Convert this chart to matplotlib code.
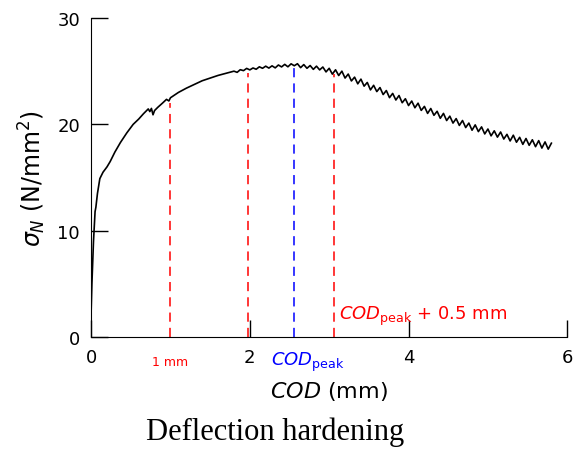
import numpy as np
import matplotlib.pyplot as plt

# rising part of the curve (COD in mm, sigma_N in N/mm2)
cod_rise = [0.00, 0.01, 0.03, 0.05, 0.06, 0.08, 0.11, 0.15, 0.20, 0.24, 0.30, 0.37,
            0.45, 0.53, 0.60, 0.66, 0.72, 0.74, 0.76, 0.78, 0.80, 0.84, 0.90, 0.95,
            0.98, 1.00, 1.05, 1.10, 1.20, 1.30, 1.40, 1.50, 1.60, 1.70, 1.75]
sig_rise = [2.3, 5.0, 9.0, 11.8, 12.2, 13.5, 14.9, 15.5, 16.0, 16.5, 17.4, 18.3,
            19.2, 20.0, 20.5, 21.0, 21.45, 21.2, 21.5, 20.9, 21.3, 21.6, 22.0, 22.35,
            22.2, 22.5, 22.75, 23.0, 23.4, 23.75, 24.1, 24.35, 24.6, 24.8, 24.9]

# noisy plateau and softening part
cod_tail = [1.80, 1.84, 1.88, 1.92, 1.96, 2.00, 2.04, 2.08, 2.12, 2.16, 2.20, 2.24,
            2.28, 2.32, 2.36, 2.40, 2.44, 2.48, 2.52, 2.56, 2.60, 2.64, 2.68, 2.72,
            2.76, 2.80, 2.84, 2.88, 2.92, 2.96, 3.00, 3.04, 3.08, 3.12, 3.16, 3.20,
            3.24, 3.28, 3.32, 3.36, 3.40, 3.44, 3.48, 3.52, 3.56, 3.60, 3.64, 3.68,
            3.72, 3.76, 3.80, 3.84, 3.88, 3.92, 3.96, 4.00, 4.04, 4.08, 4.12, 4.16,
            4.20, 4.24, 4.28, 4.32, 4.36, 4.40, 4.44, 4.48, 4.52, 4.56, 4.60, 4.64,
            4.68, 4.72, 4.76, 4.80, 4.84, 4.88, 4.92, 4.96, 5.00, 5.04, 5.08, 5.12,
            5.16, 5.20, 5.24, 5.28, 5.32, 5.36, 5.40, 5.44, 5.48, 5.52, 5.56, 5.60,
            5.64, 5.68, 5.72, 5.76, 5.80]
sig_tail = [25.00, 24.89, 25.14, 25.05, 25.26, 25.12, 25.30, 25.18, 25.41, 25.27, 25.47, 25.29,
            25.50, 25.31, 25.58, 25.40, 25.64, 25.41, 25.69, 25.51, 25.70, 25.33, 25.62, 25.27,
            25.53, 25.17, 25.47, 25.12, 25.39, 24.93, 25.27, 24.72, 25.13, 24.59, 25.00, 24.35,
            24.73, 24.08, 24.44, 23.81, 24.25, 23.59, 23.94, 23.24, 23.67, 23.08, 23.46, 22.80,
            23.18, 22.51, 22.91, 22.29, 22.71, 22.03, 22.41, 21.77, 22.19, 21.56, 21.99, 21.31,
            21.69, 21.03, 21.49, 20.85, 21.23, 20.57, 21.03, 20.36, 20.77, 20.12, 20.54, 19.90,
            20.36, 19.70, 20.12, 19.45, 19.95, 19.32, 19.76, 19.10, 19.56, 18.92, 19.39, 18.80,
            19.28, 18.62, 19.06, 18.44, 18.98, 18.32, 18.78, 18.12, 18.67, 18.03, 18.55, 17.90,
            18.47, 17.77, 18.35, 17.67, 18.23]

# vertical marker lines: position, height, colour
mark_x = [1.0, 1.98, 2.56, 3.06]
mark_top = [22.0, 24.8, 25.6, 24.7]
mark_col = ['red', 'red', 'blue', 'red']

xticks = [0, 2, 4, 6]
yticks = [0, 10, 20, 30]

fig = plt.figure(figsize=(5.73, 4.52), dpi=100)
ax = fig.add_axes([0.159, 0.252, 0.831, 0.706])

ax.plot(cod_rise + cod_tail, sig_rise + sig_tail, color='black', lw=1.2)

for x, top, c in zip(mark_x, mark_top, mark_col):
    ax.plot([x, x], [0, top], color=c, lw=1.1, dashes=(6, 4))

ax.set_xlim(0, 6)
ax.set_ylim(0, 30)
ax.set_xticks(xticks)
ax.set_yticks(yticks)
ax.tick_params(direction='in', length=12, width=1, labelsize=13, pad=8)
for s in ['top', 'right']:
    ax.spines[s].set_visible(False)

ax.text(1.0, -2.3, '1 mm', color='red', fontsize=9, ha='center', va='center')
ax.text(2.73, -2.3, r'$COD_{\mathrm{peak}}$', color='blue', fontsize=13,
        ha='center', va='center')
ax.text(3.12, 2.0, r'$COD_{\mathrm{peak}}$ + 0.5 mm', color='red', fontsize=13,
        ha='left', va='center')

ax.set_xlabel(r'$COD$ (mm)', fontsize=16, labelpad=9)
ax.set_ylabel(r'$\sigma_N$ (N/mm$^2$)', fontsize=17, labelpad=7)

fig.text(0.48, 0.044, 'Deflection hardening', fontsize=22,
         family='Liberation Serif', ha='center', va='center')

fig.savefig('out.png', dpi=100)
